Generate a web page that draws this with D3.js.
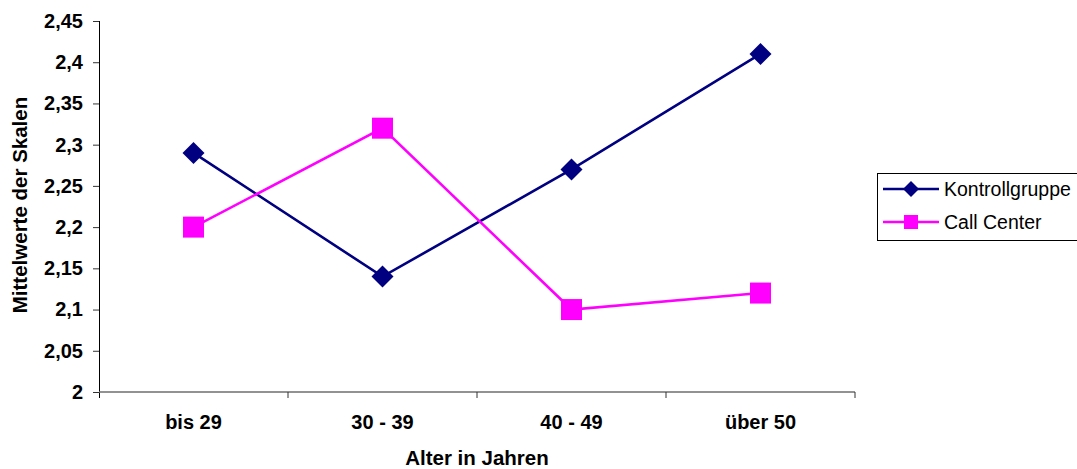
<!DOCTYPE html>
<html>
<head>
<meta charset="utf-8">
<script src="https://cdn.jsdelivr.net/npm/d3@7"></script>
<style>
  html, body { margin: 0; padding: 0; background: #fff; }
  svg { display: block; font-family: "Liberation Sans", Arial, sans-serif; }
</style>
</head>
<body>
<svg id="chart" width="1077" height="469"></svg>
<script>
// Altersgruppen und Mittelwerte der Skalen je Gruppe
const categories = ["bis 29", "30 - 39", "40 - 49", "über 50"];
const kontrollgruppe = [2.29, 2.14, 2.27, 2.41];
const callCenter = [2.20, 2.32, 2.10, 2.12];
const yTicks = [2, 2.05, 2.1, 2.15, 2.2, 2.25, 2.3, 2.35, 2.4, 2.45];

const series = [
  { name: "Kontrollgruppe", values: kontrollgruppe, color: "#000080", symbol: "diamond" },
  { name: "Call Center", values: callCenter, color: "#FF00FF", symbol: "square" }
];

const svg = d3.select("#chart");
const plotLeft = 99, plotRight = 855, plotTop = 21, plotBottom = 392;

const x = d3.scaleBand().domain(categories).range([plotLeft, plotRight]).padding(0);
const y = d3.scaleLinear().domain([2, 2.45]).range([plotBottom, plotTop]);
const fmt = v => String(+v.toFixed(2)).replace(".", ",");

// Y-Achse
const yAxis = svg.append("g")
  .attr("transform", `translate(${plotLeft},0)`)
  .call(d3.axisLeft(y).tickValues(yTicks).tickSize(6).tickSizeOuter(0).tickFormat(fmt).tickPadding(10));
yAxis.select(".domain").attr("stroke", "#000").attr("d", `M0.5,${plotTop}V${plotBottom + 6}`);
yAxis.selectAll(".tick line").attr("stroke", "#333");
yAxis.selectAll(".tick text")
  .attr("font-size", 20).attr("font-weight", "bold").attr("fill", "#000")
  .attr("font-family", "Liberation Sans, Arial, sans-serif");

// X-Achse mit Strichen an den Kategoriegrenzen
const xAxis = svg.append("g").attr("transform", `translate(0,${plotBottom})`);
xAxis.append("line").attr("x1", plotLeft).attr("x2", plotRight).attr("y1", 0).attr("y2", 0)
  .attr("stroke", "#6e6e6e").attr("stroke-width", 1.6);
const bounds = categories.map(c => x(c)).concat([x(categories[categories.length - 1]) + x.bandwidth()]);
xAxis.selectAll("line.tk").data(bounds.slice(1)).join("line").attr("class", "tk")
  .attr("x1", d => d).attr("x2", d => d).attr("y1", 0).attr("y2", 6)
  .attr("stroke", "#333");
xAxis.selectAll("text").data(categories).join("text")
  .attr("x", d => x(d) + x.bandwidth() / 2).attr("y", 37)
  .attr("text-anchor", "middle").attr("font-size", 20).attr("font-weight", "bold")
  .text(d => d);

// Achsentitel
svg.append("text").attr("x", 477).attr("y", 465).attr("text-anchor", "middle")
  .attr("font-size", 20.5).attr("font-weight", "bold").text("Alter in Jahren");
svg.append("text").attr("transform", "translate(27,205) rotate(-90)").attr("text-anchor", "middle")
  .attr("font-size", 20.5).attr("font-weight", "bold").text("Mittelwerte der Skalen");

const cx = d => x(d) + x.bandwidth() / 2;
const line = d3.line().x((d, i) => cx(categories[i])).y(d => y(d));

function marker(sel, s, size) {
  if (s.symbol === "diamond") {
    const h = size / 2;
    sel.append("path").attr("d", `M0,${-h}L${h},0L0,${h}L${-h},0Z`).attr("fill", s.color);
  } else {
    sel.append("rect").attr("x", -size / 2).attr("y", -size / 2)
      .attr("width", size).attr("height", size).attr("fill", s.color);
  }
}

// Linien und Markierungen
series.forEach(s => {
  svg.append("path").datum(s.values).attr("d", line)
    .attr("fill", "none").attr("stroke", s.color).attr("stroke-width", 2.6);
  s.values.forEach((v, i) => {
    const g = svg.append("g").attr("transform", `translate(${cx(categories[i])},${y(v)})`);
    marker(g, s, s.symbol === "diamond" ? 22 : 21);
  });
});

// Legende
const lg = svg.append("g").attr("transform", "translate(877,173)");
lg.append("rect").attr("x", 0.5).attr("y", 0.5).attr("width", 220).attr("height", 67)
  .attr("fill", "#fff").attr("stroke", "#000").attr("stroke-width", 1);
series.forEach((s, i) => {
  const yy = 16 + i * 33;
  const g = lg.append("g").attr("transform", `translate(0,${yy})`);
  g.append("line").attr("x1", 6).attr("x2", 62).attr("y1", 0).attr("y2", 0)
    .attr("stroke", s.color).attr("stroke-width", 2.4);
  const m = g.append("g").attr("transform", "translate(34,0)");
  marker(m, s, s.symbol === "diamond" ? 16 : 14);
  g.append("text").attr("x", 67).attr("y", 7).attr("font-size", 19.5).text(s.name);
});
</script>
</body>
</html>
